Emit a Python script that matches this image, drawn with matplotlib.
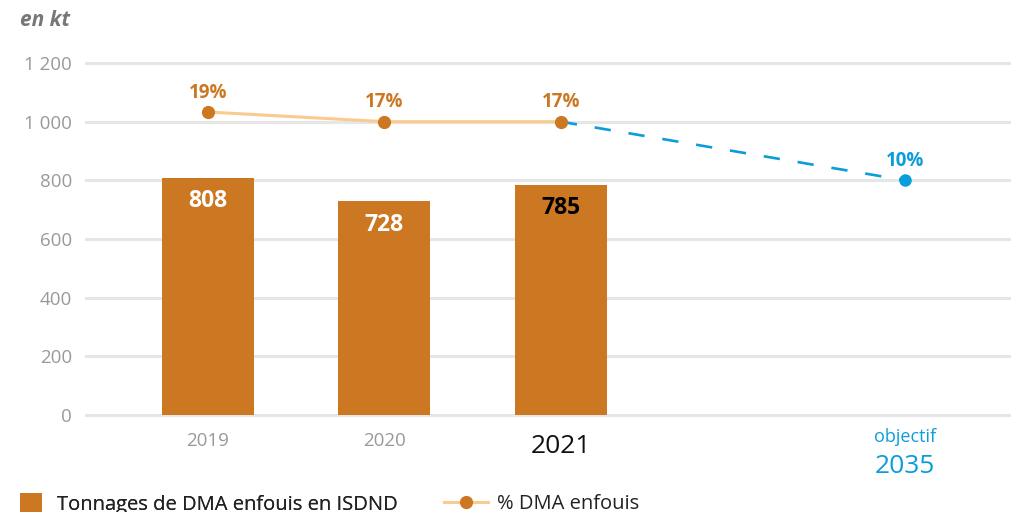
import matplotlib.pyplot as plt
from matplotlib.patches import Patch
from matplotlib.lines import Line2D

# tonnages enfouis (kt) et part des DMA enfouis
years = ["2019", "2020", "2021"]
tonnages = [808, 728, 785]
pct_labels = ["19%", "17%", "17%"]
pct_level = [1033, 1000, 1000]     # hauteur des points sur l'axe kt
target_label = "10%"
target_level = 800
yticks = [0, 200, 400, 600, 800, 1000, 1200]
ytick_labels = ["0", "200", "400", "600", "800", "1 000", "1 200"]

x_years = [0, 1, 2]
x_target = 3.95

ORANGE = "#cc7722"
LIGHT = "#f9cb8f"
BLUE = "#0b9ddb"
GREY = "#999999"

plt.rcParams["font.family"] = ["Open Sans", "DejaVu Sans"]

fig = plt.figure(figsize=(10.11, 5.12), dpi=100)
ax = fig.add_axes([0.085, 1 - 415 / 512, 0.915, 352 / 512])

ax.set_xlim(-0.69, 4.55)
ax.set_ylim(0, 1200)

for y in yticks:
    ax.axhline(y, color="#e6e6e6", lw=2.2, zorder=0, clip_on=False)

bars = ax.bar(x_years, tonnages, width=0.52, color=ORANGE, zorder=2)
for i, (b, v) in enumerate(zip(bars, tonnages)):
    ax.text(b.get_x() + b.get_width() / 2, v - 80, str(v), ha="center", va="center",
            fontsize=16.5, fontweight="bold",
            color="black" if i == 2 else "white", zorder=3)

# projection vers l'objectif
ax.plot([x_years[-1], x_target], [pct_level[-1], target_level], color=BLUE, lw=1.9,
        dashes=(6.2, 6.8), zorder=3)
ax.plot([x_target], [target_level], "o", color=BLUE, ms=8, zorder=4, clip_on=False)
ax.text(x_target, target_level + 32, target_label, ha="center", va="bottom", fontsize=13.5,
        fontweight="bold", color=BLUE)

ax.plot(x_years, pct_level, color=LIGHT, lw=2.2, zorder=3)
ax.plot(x_years, pct_level, "o", color=ORANGE, ms=8.5, zorder=4)
for x, y, s in zip(x_years, pct_level, pct_labels):
    ax.text(x, y + 32, s, ha="center", va="bottom", fontsize=13.5, fontweight="bold",
            color=ORANGE)

ax.set_yticks(yticks)
ax.set_yticklabels(ytick_labels, fontsize=13.5, color=GREY)
ax.tick_params(axis="y", length=0, pad=10)
ax.set_xticks([])
for s in ax.spines.values():
    s.set_visible(False)

# étiquettes des années
for x, yr in zip(x_years[:2], years[:2]):
    ax.text(x, -89, yr, ha="center", va="center", fontsize=13.5, color=GREY)
ax.text(x_years[2], -109, years[2], ha="center", va="center", fontsize=19, color="#111111")
ax.text(x_target, -75, "objectif", ha="center", va="center", fontsize=13, color=BLUE)
ax.text(x_target, -174, "2035", ha="center", va="center", fontsize=19, color=BLUE)

fig.text(20 / 1011, 1 - 20 / 512, "en kt", fontsize=15, fontweight="bold", style="italic",
         color="#777777", va="center", ha="left")

# deux légendes séparées pour des poignées de longueurs différentes
leg_kw = dict(loc="center left", frameon=False, fontsize=14.5, labelcolor="#222222",
              borderaxespad=0, borderpad=0)
leg1 = fig.legend([Patch(facecolor=ORANGE, edgecolor="none")],
                  ["Tonnages de DMA enfouis en ISDND"],
                  bbox_to_anchor=(20 / 1011, 1 - 504 / 512), handlelength=1.1,
                  handleheight=1.1, handletextpad=0.72, **leg_kw)
fig.add_artist(leg1)
fig.legend([Line2D([], [], color=LIGHT, lw=2.2, marker="o", ms=8.5,
                   markerfacecolor=ORANGE, markeredgecolor=ORANGE)],
           ["% DMA enfouis"],
           bbox_to_anchor=(444 / 1011, 1 - 504 / 512), handlelength=2.2,
           handletextpad=0.45, **leg_kw)

fig.savefig("out.png", dpi=100)
